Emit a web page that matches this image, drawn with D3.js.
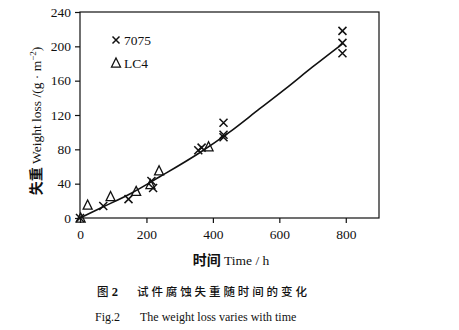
<!DOCTYPE html>
<html>
<head>
<meta charset="utf-8">
<script src="https://cdn.jsdelivr.net/npm/d3@7"></script>
<style>
  html, body { margin: 0; padding: 0; background: #fff; }
  svg { display: block; }
  .serif { font-family: "Liberation Serif", "Times New Roman", serif; }
  .cjk { font-family: "Noto Sans CJK SC", sans-serif; }
</style>
</head>
<body>
<svg id="chart" width="459" height="330"></svg>
<script>
// Corrosion weight loss vs. exposure time
const xTicks = [0, 200, 400, 600, 800];
const yTicks = [0, 40, 80, 120, 160, 200, 240];

// 7075 alloy specimens: [time (h), weight loss (g·m^-2)]
const alloy7075 = [
  [0, 0], [70, 14], [146, 22], [215, 43], [220, 35],
  [356, 79], [366, 82], [432, 111], [432, 97], [432, 94],
  [790, 218], [790, 204], [790, 192]
];

// LC4 alloy specimens
const alloyLC4 = [
  [2, 0], [23, 15], [92, 25], [169, 31], [212, 39], [238, 55], [387, 83]
];

// Fitted trend curve
const trend = [
  [0, 0], [70, 13], [150, 28], [240, 48], [360, 76],
  [450, 100], [540, 127], [620, 151], [700, 176], [790, 203]
];

const legendItems = [
  { label: "7075", shape: "cross" },
  { label: "LC4", shape: "triangle" }
];

const svg = d3.select("#chart");
const ink = "#111";

const x = d3.scaleLinear().domain([0, 900]).range([80, 379]);
const y = d3.scaleLinear().domain([0, 240]).range([218, 12]);

// Frame
svg.append("rect")
  .attr("x", x(0)).attr("y", y(240))
  .attr("width", x(900) - x(0)).attr("height", y(0) - y(240))
  .attr("fill", "none").attr("stroke", ink).attr("stroke-width", 1.2);

// Axes
const xAxis = svg.append("g")
  .attr("transform", `translate(0,${y(0)})`)
  .call(d3.axisBottom(x).tickValues(xTicks).tickSize(5).tickPadding(6));
const yAxis = svg.append("g")
  .attr("transform", `translate(${x(0)},0)`)
  .call(d3.axisLeft(y).tickValues(yTicks).tickSize(5).tickPadding(4));

[xAxis, yAxis].forEach(g => {
  g.select(".domain").remove();
  g.selectAll("line").attr("stroke", ink).attr("stroke-width", 1.2);
  g.selectAll("text")
    .attr("class", "serif")
    .attr("fill", ink)
    .style("font-size", "13.5px");
});

// Trend curve
svg.append("path")
  .datum(trend)
  .attr("fill", "none")
  .attr("stroke", ink)
  .attr("stroke-width", 1.6)
  .attr("d", d3.line().x(d => x(d[0])).y(d => y(d[1])).curve(d3.curveMonotoneX));

// Marker drawers
function cross(g, cx, cy, r) {
  g.append("path")
    .attr("d", `M${cx - r},${cy - r}L${cx + r},${cy + r}M${cx - r},${cy + r}L${cx + r},${cy - r}`)
    .attr("stroke", ink).attr("stroke-width", 1.5).attr("fill", "none");
}
function triangle(g, cx, cy, s) {
  const h = s * 0.9;
  g.append("path")
    .attr("d", `M${cx},${cy - h / 2 - 1}L${cx + s / 2},${cy + h / 2}L${cx - s / 2},${cy + h / 2}Z`)
    .attr("stroke", ink).attr("stroke-width", 1.3).attr("fill", "none");
}

const marks = svg.append("g");
alloyLC4.forEach(d => triangle(marks, x(d[0]), y(d[1]), 9));
alloy7075.forEach(d => cross(marks, x(d[0]), y(d[1]), 4));

// Legend
const legend = svg.append("g");
legendItems.forEach((item, i) => {
  const ly = 40 + i * 23;
  if (item.shape === "cross") cross(legend, 116, ly, 3.5);
  else triangle(legend, 116, ly, 9);
  legend.append("text")
    .attr("class", "serif")
    .attr("x", 124).attr("y", ly + 5)
    .attr("fill", ink)
    .style("font-size", "13.5px")
    .text(item.label);
});

// X axis title
const xt = svg.append("text")
  .attr("x", 231).attr("y", 265)
  .attr("text-anchor", "middle")
  .attr("fill", ink);
xt.append("tspan").attr("class", "cjk").style("font-size", "14px").style("font-weight", "bold").text("时间");
xt.append("tspan").attr("class", "serif").style("font-size", "13.5px").text(" Time / h");

// Y axis title
const yt = svg.append("text")
  .attr("transform", "translate(41,121) rotate(-90)")
  .attr("text-anchor", "middle")
  .attr("fill", ink);
yt.append("tspan").attr("class", "cjk").style("font-size", "14px").style("font-weight", "bold").text("失重");
yt.append("tspan").attr("class", "serif").style("font-size", "13.5px").text(" Weight loss /(g · m");
yt.append("tspan").attr("class", "serif").style("font-size", "9px").attr("dy", -5).text("−2");
yt.append("tspan").attr("class", "serif").style("font-size", "13.5px").attr("dy", 5).text(")");

// Caption
const c1 = svg.append("text").attr("x", 97).attr("y", 296).attr("fill", ink);
c1.append("tspan").attr("class", "cjk").style("font-size", "11.5px").style("font-weight", "500").text("图");
c1.append("tspan").attr("class", "serif").style("font-size", "12.5px").style("font-weight", "bold").text(" 2");
c1.append("tspan").attr("class", "cjk").attr("x", 137).style("font-size", "11.5px")
  .style("font-weight", "500").style("letter-spacing", "2.9px").text("试件腐蚀失重随时间的变化");

const c2 = svg.append("text").attr("class", "serif").attr("x", 95).attr("y", 321)
  .attr("fill", ink).style("font-size", "12px");
c2.append("tspan").text("Fig.2");
c2.append("tspan").attr("x", 140).text("The weight loss varies with time");
</script>
</body>
</html>
